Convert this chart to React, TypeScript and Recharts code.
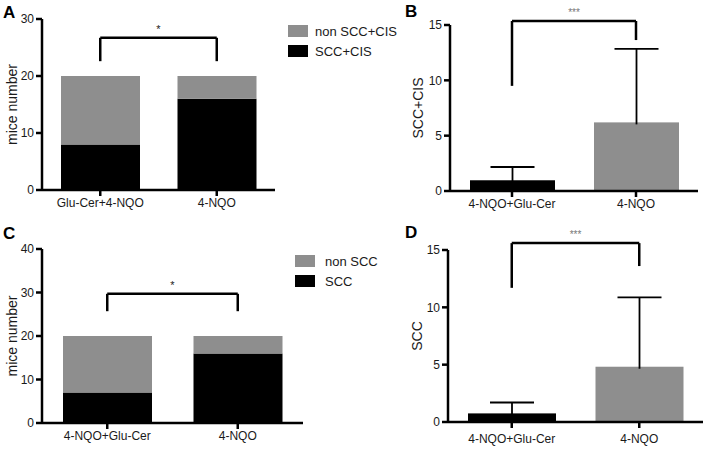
import React from 'react';
import { BarChart, Bar, XAxis, YAxis, ReferenceLine, Legend, Cell } from 'recharts';

// panel A: stacked counts
const groupsA = ['Glu-Cer+4-NQO', '4-NQO'];
const sccCisA = [8, 16];
const nonSccCisA = [12, 4];
const ticksA = [0, 10, 20, 30];

// panel B: mean + one-sided error
const groupsB = ['4-NQO+Glu-Cer', '4-NQO'];
const meanB = [0.97, 6.2];
const errB = [1.2, 6.65];
const ticksB = [0, 5, 10, 15];

// panel C: stacked counts
const groupsC = ['4-NQO+Glu-Cer', '4-NQO'];
const sccC = [7, 16];
const nonSccC = [13, 4];
const ticksC = [0, 10, 20, 30, 40];

// panel D: mean + one-sided error
const groupsD = ['4-NQO+Glu-Cer', '4-NQO'];
const meanD = [0.75, 4.82];
const errD = [0.95, 6.05];
const ticksD = [0, 5, 10, 15];

const BLACK = '#000000';
const GREY = '#8e8e8e';
const barFills = [BLACK, GREY];
const FONT = '"Liberation Sans", Arial, Helvetica, sans-serif';

const axisLine = { stroke: '#000', strokeWidth: 2.5 };
const tickStyle = { fill: '#1a1a1a', fontSize: 12, fontFamily: FONT };

const stackedA = groupsA.map((g, i) => ({ name: g, scc: sccCisA[i], non: nonSccCisA[i] }));
const stackedC = groupsC.map((g, i) => ({ name: g, scc: sccC[i], non: nonSccC[i] }));
const meanDataB = groupsB.map((g, i) => ({ name: g, mean: meanB[i], err: errB[i] }));
const meanDataD = groupsD.map((g, i) => ({ name: g, mean: meanD[i], err: errD[i] }));

// bar + upper whisker only (no cap at bar top)
const ErrShape = (props: any) => {
  const { x, y, width, height, fill, payload } = props;
  const perUnit = height / payload.mean;
  const top = y - payload.err * perUnit;
  const cx = x + width / 2;
  return (
    <g>
      <rect x={x} y={y} width={width} height={height} fill={fill} />
      <line x1={cx} y1={y + 2} x2={cx} y2={top} stroke="#000" strokeWidth={1.8} />
      <line x1={cx - 22} x2={cx + 22} y1={top} y2={top} stroke="#000" strokeWidth={1.8} />
    </g>
  );
};

function bracket(a: string, b: string, top: number, leftEnd: number, rightEnd: number, stars: string, starColor: string, starSize: number) {
  const s = { stroke: '#000', strokeWidth: 2.5 };
  return [
    <ReferenceLine key="h" segment={[{ x: a, y: top }, { x: b, y: top }]} ifOverflow="visible" {...s}
      label={{ value: stars, position: 'top', fill: starColor, fontSize: starSize, fontFamily: FONT }} />,
    <ReferenceLine key="l" segment={[{ x: a, y: top }, { x: a, y: leftEnd }]} ifOverflow="visible" {...s} />,
    <ReferenceLine key="r" segment={[{ x: b, y: top }, { x: b, y: rightEnd }]} ifOverflow="visible" {...s} />,
  ];
}

function StackLegend({ items, gap }: { items: { label: string; color: string }[]; gap: number }) {
  return (
    <div style={{ fontFamily: FONT, fontSize: 13, color: '#1a1a1a', whiteSpace: 'nowrap' }}>
      {items.map((it) => (
        <div key={it.label} style={{ display: 'flex', alignItems: 'center', height: 20 }}>
          <span style={{ display: 'inline-block', width: 20, height: 12, background: it.color, marginRight: gap }} />
          <span>{it.label}</span>
        </div>
      ))}
    </div>
  );
}

const letter = (t: string, left: number, top: number) => (
  <div style={{ position: 'absolute', left, top, fontFamily: FONT, fontWeight: 'bold', fontSize: 17, lineHeight: '17px' }}>{t}</div>
);

export default function App() {
  return (
    <div style={{ position: 'absolute', left: 0, top: 0, width: 709, height: 460, background: '#fff', fontFamily: FONT }}>
      {/* A */}
      <div style={{ position: 'absolute', left: 0, top: 0 }}>
        <BarChart width={360} height={230} data={stackedA} margin={{ top: 19, right: 85, bottom: 10, left: 12 }} barSize={79}>
          <XAxis dataKey="name" height={30} axisLine={axisLine} tickLine={axisLine} tickSize={6} tick={tickStyle} />
          <YAxis width={30} domain={[0, 30]} ticks={ticksA} axisLine={axisLine} tickLine={axisLine} tickSize={6} tick={tickStyle}
            label={{ value: 'mice number', angle: -90, position: 'center', dx: -15, fill: '#1a1a1a', fontSize: 14, fontFamily: FONT }} />
          <Bar dataKey="scc" stackId="s" fill={BLACK} isAnimationActive={false} />
          <Bar dataKey="non" stackId="s" fill={GREY} isAnimationActive={false} />
          {bracket(groupsA[0], groupsA[1], 26.7, 22.6, 22.6, '*', '#222', 11)}
          <Legend layout="vertical" align="center" verticalAlign="middle" wrapperStyle={{ left: 288, top: 21, width: 120 }}
            content={() => <StackLegend gap={7} items={[{ label: 'non SCC+CIS', color: GREY }, { label: 'SCC+CIS', color: BLACK }]} />} />
        </BarChart>
      </div>
      {/* B */}
      <div style={{ position: 'absolute', left: 360, top: 0 }}>
        <BarChart width={349} height={230} data={meanDataB} margin={{ top: 25, right: 11, bottom: 9, left: 60 }} barSize={85}>
          <XAxis dataKey="name" height={30} axisLine={axisLine} tickLine={axisLine} tickSize={6} tick={tickStyle} />
          <YAxis width={30} domain={[0, 15]} ticks={ticksB} axisLine={axisLine} tickLine={axisLine} tickSize={6} tick={tickStyle}
            label={{ value: 'SCC+CIS', angle: -90, position: 'center', dx: -17, fill: '#1a1a1a', fontSize: 14, fontFamily: FONT }} />
          <Bar dataKey="mean" shape={ErrShape} isAnimationActive={false}>
            {meanDataB.map((d, i) => <Cell key={d.name} fill={barFills[i]} />)}
          </Bar>
          {bracket(groupsB[0], groupsB[1], 15.36, 9.5, 13.64, '***', '#777', 10)}
        </BarChart>
      </div>
      {/* C */}
      <div style={{ position: 'absolute', left: 0, top: 230 }}>
        <BarChart width={360} height={230} data={stackedC} margin={{ top: 19, right: 57, bottom: 7, left: 12 }} barSize={89}>
          <XAxis dataKey="name" height={30} axisLine={axisLine} tickLine={axisLine} tickSize={6} tick={tickStyle} />
          <YAxis width={30} domain={[0, 40]} ticks={ticksC} axisLine={axisLine} tickLine={axisLine} tickSize={6} tick={tickStyle}
            label={{ value: 'mice number', angle: -90, position: 'center', dx: -15, fill: '#1a1a1a', fontSize: 14, fontFamily: FONT }} />
          <Bar dataKey="scc" stackId="s" fill={BLACK} isAnimationActive={false} />
          <Bar dataKey="non" stackId="s" fill={GREY} isAnimationActive={false} />
          {bracket(groupsC[0], groupsC[1], 29.7, 25.7, 25.7, '*', '#222', 11)}
          <Legend layout="vertical" align="center" verticalAlign="middle" wrapperStyle={{ left: 295, top: 21, width: 100 }}
            content={() => <StackLegend gap={10} items={[{ label: 'non SCC', color: GREY }, { label: 'SCC', color: BLACK }]} />} />
        </BarChart>
      </div>
      {/* D */}
      <div style={{ position: 'absolute', left: 360, top: 230 }}>
        <BarChart width={349} height={230} data={meanDataD} margin={{ top: 20, right: 6, bottom: 8, left: 58 }} barSize={88}>
          <XAxis dataKey="name" height={30} axisLine={axisLine} tickLine={axisLine} tickSize={6} tickMargin={6} tick={tickStyle} />
          <YAxis width={30} domain={[0, 15]} ticks={ticksD} axisLine={axisLine} tickLine={axisLine} tickSize={6} tick={tickStyle}
            label={{ value: 'SCC', angle: -90, position: 'center', dx: -16, fill: '#1a1a1a', fontSize: 14, fontFamily: FONT }} />
          <Bar dataKey="mean" shape={ErrShape} isAnimationActive={false}>
            {meanDataD.map((d, i) => <Cell key={d.name} fill={barFills[i]} />)}
          </Bar>
          {bracket(groupsD[0], groupsD[1], 15.6, 11.7, 13.6, '***', '#777', 10)}
        </BarChart>
      </div>
      {letter('A', 3, 4)}
      {letter('B', 405, 3)}
      {letter('C', 3, 225)}
      {letter('D', 405, 224)}
    </div>
  );
}
